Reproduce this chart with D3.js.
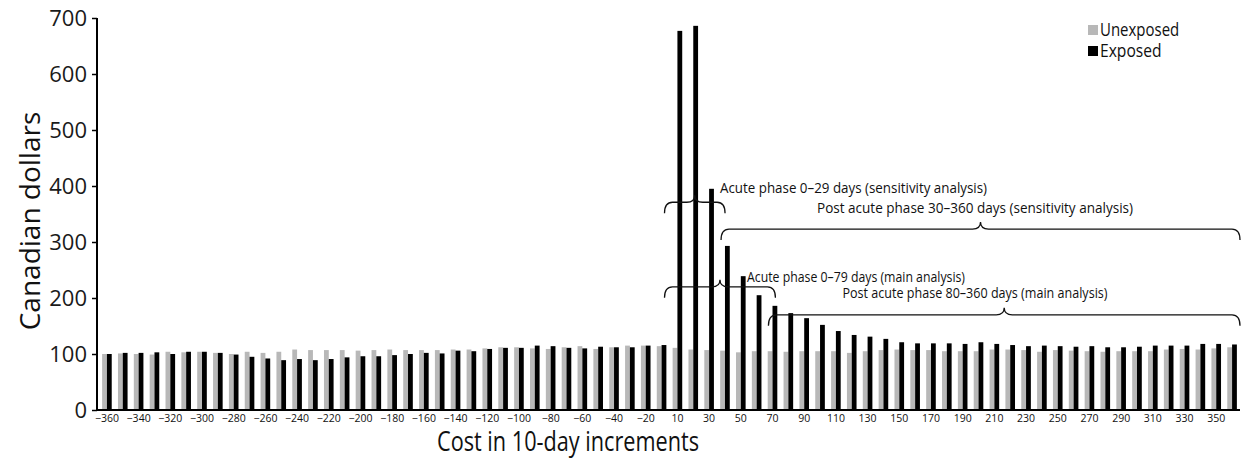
<!DOCTYPE html>
<html><head><meta charset="utf-8">
<script src="https://cdn.jsdelivr.net/npm/d3@7"></script>
<style>
html,body{margin:0;padding:0;background:#fff;}
svg{display:block;font-family:"Open Sans",sans-serif;}
</style></head>
<body><svg id="chart" width="1246" height="468"></svg>
<script>
const categories = [-360,-350,-340,-330,-320,-310,-300,-290,-280,-270,-260,-250,-240,-230,-220,-210,-200,-190,-180,-170,-160,-150,-140,-130,-120,-110,-100,-90,-80,-70,-60,-50,-40,-30,-20,-10,
10,20,30,40,50,60,70,80,90,100,110,120,130,140,150,160,170,180,190,200,210,220,230,240,250,260,270,280,290,300,310,320,330,340,350,360];
const unexposed = [100,101,100,99,104,103,104,102,100,104,102,104,108,107,107,107,106,107,108,107,107,107,108,108,110,112,112,110,109,112,114,109,112,115,115,114,
111,108,107,106,103,105,105,104,105,105,105,102,105,107,108,107,107,105,105,105,108,108,107,104,107,106,105,104,105,105,105,108,109,108,110,112];
const exposed = [100,102,102,103,100,104,104,102,99,95,92,89,91,89,91,94,96,96,98,100,102,101,106,105,109,111,111,115,114,111,110,113,112,112,115,116,
677,686,395,293,239,205,186,173,164,152,141,134,131,127,121,119,119,119,118,121,118,116,114,115,114,113,114,112,112,113,115,115,115,118,118,117];
const seriesNames = ["Unexposed","Exposed"];
const yTicks = [0,100,200,300,400,500,600,700];
const xTickValues = categories.filter((c,i)=> i%2===0);
const xTickLabel = c => c<0 ? "\u2212"+Math.abs(c) : String(c);
const annotations = [
  {text:"Acute phase 0\u201329 days (sensitivity analysis)", from:10, to:30, level:371},
  {text:"Post acute phase 30\u2013360 days (sensitivity analysis)", from:40, to:360, level:323},
  {text:"Acute phase 0\u201379 days (main analysis)", from:10, to:70, level:220},
  {text:"Post acute phase 80\u2013360 days (main analysis)", from:80, to:360, level:170}
];

const svg = d3.select("#chart");
const x = d3.scaleBand().domain(categories).range([99,1240]).paddingInner(0).paddingOuter(0);
const y = d3.scaleLinear().domain([0,700]).range([410,18]);
const xs = d3.scaleBand().domain(seriesNames).range([-4.8,4.8]);
const color = d3.scaleOrdinal().domain(seriesNames).range(["#b8b8b8","#000000"]);

function fitWidth(sel, target){
  const w = sel.node().getComputedTextLength();
  if (w > target) sel.attr("textLength", target).attr("lengthAdjust","spacingAndGlyphs");
}

// bars
const data = categories.map((c,i)=>({c, vals:[{s:"Unexposed",v:unexposed[i]},{s:"Exposed",v:exposed[i]}]}));
const g = svg.append("g");
g.selectAll("g.cat").data(data).join("g").attr("class","cat")
 .attr("transform",d=>`translate(${x(d.c)+x.bandwidth()/2},0)`)
 .selectAll("rect").data(d=>d.vals).join("rect")
 .attr("x",d=>xs(d.s)).attr("width",xs.bandwidth())
 .attr("y",d=>y(d.v)).attr("height",d=>y(0)-y(d.v))
 .attr("fill",d=>color(d.s));

// y axis
const yAxis = svg.append("g").attr("transform","translate(97,0)")
 .call(d3.axisLeft(y).tickValues(yTicks).tickSize(5).tickPadding(5));
yAxis.select(".domain").attr("stroke","#000").attr("stroke-width",2).attr("d","M0,18V410");
yAxis.selectAll(".tick line").attr("stroke","#000").attr("stroke-width",1.5);
yAxis.selectAll(".tick text").attr("font-size",22).attr("fill","#1a1a1a").attr("font-family","Open Sans");

// x axis
const xAxis = svg.append("g").attr("transform","translate(0,410)")
 .call(d3.axisBottom(x).tickValues(xTickValues).tickSize(0).tickPadding(6).tickFormat(xTickLabel));
xAxis.select(".domain").attr("stroke","#000").attr("stroke-width",2).attr("d","M96,0H1240");
xAxis.selectAll(".tick text").attr("font-size",10.5).attr("fill","#111").attr("font-family","Open Sans").attr("dy","0.6em");

// axis titles
const xt = svg.append("text").attr("x",568).attr("y",451).attr("text-anchor","middle")
 .attr("font-size",27).attr("fill","#111").text("Cost in 10-day increments");
fitWidth(xt, 262);
const yt = svg.append("text").attr("transform","translate(40,221) rotate(-90)").attr("text-anchor","middle")
 .attr("font-size",28).attr("fill","#111").text("Canadian dollars");
fitWidth(yt, 300);

// legend
const leg = svg.append("g").attr("transform","translate(1088,30)");
seriesNames.forEach((s,i)=>{
  leg.append("rect").attr("x",0).attr("y",i*21-5).attr("width",10).attr("height",10).attr("fill",color(s));
  const t = leg.append("text").attr("x",12).attr("y",i*21).attr("dy","0.35em").attr("font-size",17.5).attr("fill","#111").text(s);
  fitWidth(t, s.length*8.8);
});

// braces
function bracePath(x0,x1,yl,down,up){
  const xm=(x0+x1)/2, r=8;
  return `M${x0},${yl+down} Q${x0},${yl} ${x0+r},${yl} L${xm-r},${yl} Q${xm},${yl} ${xm},${yl-up} Q${xm},${yl} ${xm+r},${yl} L${x1-r},${yl} Q${x1},${yl} ${x1},${yl+down}`;
}
const step = x.step();
const braceX = [
  [x(10)-5, x(30)+step+8],
  [x(40)+4, x(360)+step],
  [x(10)-5, x(70)+step-5],
  [x(80)-12, x(360)+step]
];
const textPos = [
  {x:720, y:188, anchor:"start", w:267},
  {x:975, y:208, anchor:"middle", w:316},
  {x:747, y:277, anchor:"start", w:218},
  {x:975, y:293, anchor:"middle", w:265}
];
annotations.forEach((a,i)=>{
  const yl = y(a.level);
  svg.append("path").attr("d",bracePath(braceX[i][0],braceX[i][1],yl,11,7))
    .attr("fill","none").attr("stroke","#111").attr("stroke-width",1.3);
  const t = svg.append("text").attr("x",textPos[i].x).attr("y",textPos[i].y).attr("dy","0.35em")
    .attr("text-anchor",textPos[i].anchor).attr("font-size",14).attr("fill","#111").text(a.text);
  fitWidth(t, textPos[i].w);
});
</script></body></html>
